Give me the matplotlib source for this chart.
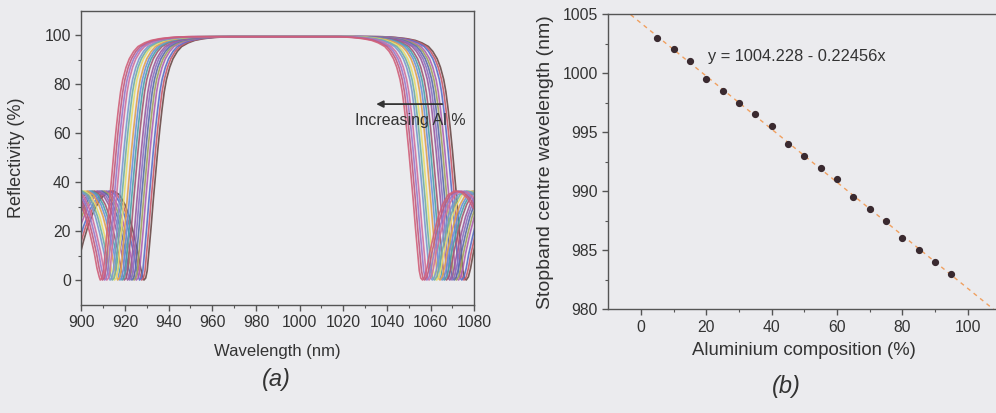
import numpy as np
import matplotlib
matplotlib.use("Agg")
import matplotlib.pyplot as plt

plt.rcParams['font.family'] = ['Liberation Sans', 'DejaVu Sans']

# ---------- dados ----------
# composição de Al (%) e centro do stopband (nm), lidos do painel (b)
al_pct = [5, 10, 15, 20, 25, 30, 35, 40, 45, 50, 55, 60, 65, 70, 75, 80, 85, 90, 95]
centro_nm = [1003.0, 1002.0, 1001.0, 999.5, 998.5, 997.5, 996.5, 995.5, 994.0, 993.0,
             992.0, 991.0, 989.5, 988.5, 987.5, 986.0, 985.0, 984.0, 983.0]

# reta de ajuste
fit_a = 1004.228
fit_b = -0.22456

# perfil de refletividade de um espelho, relativo ao centro do stopband (nm, %)
perfil_rel = [-112, -110, -108, -106, -104, -102, -100, -97, -94, -91, -88, -85.5,
              -83, -81, -79, -77, -75.8, -74.8, -74.3, -73.5, -72.8,
              -72, -71, -70, -69, -68, -67, -66, -65, -64, -62.5, -61, -59, -57,
              -54, -51, -47, -42, -35, 0,
              35, 41, 46, 50, 53, 56, 58, 60, 61.5, 63, 64, 65, 66, 67, 68, 69,
              70, 71, 71.8, 72.5, 73.3,
              74.3, 75.3, 76.5, 78.5, 80.5, 82.5, 85, 88, 91, 94, 97, 100, 102,
              104, 106, 108, 110, 112]
perfil_R = [6, 2, 0.3, 3, 9, 16, 22, 29, 33.5, 36, 36.5, 35,
            31, 26, 19, 11, 5, 1.5, 0.2, 1, 4,
            12, 22, 33, 43, 53, 62, 70, 77, 82, 87, 90.5, 93.5, 95.5,
            97, 98, 98.7, 99.2, 99.5, 99.5,
            99.5, 99.2, 98.7, 98, 97, 95.5, 93.5, 90.5, 87, 82, 77, 70, 62, 53, 43, 33,
            22, 12, 4, 1, 0.2,
            1.5, 5, 11, 19, 26, 31, 35, 36.5, 36, 33.5, 29, 22, 16,
            9, 3, 0.3, 2, 6]

cores = ['#6a4a48', '#c85a6a', '#5a6ec8', '#b060b0', '#a0a060', '#5a6aa8', '#8a70c0',
         '#9a5aa0', '#a05a70', '#4aa0a8', '#6a90d8', '#e0a050', '#e6dc6a', '#70b0a0',
         '#7a98d0', '#d070a0', '#9a78c8', '#c05a80', '#d0607a']

fundo = '#ebebee'
cor_eixo = '#555555'
cor_texto = '#333333'

fig = plt.figure(figsize=(9.96, 4.13), dpi=100, facecolor=fundo)

# ---------- painel (a) ----------
ax1 = fig.add_axes([0.0816, 0.2615, 0.3946, 0.7119], facecolor=fundo)
rel = np.array(perfil_rel)
for i, c in enumerate(centro_nm):
    ax1.plot(rel + c, perfil_R, color=cores[i % len(cores)], lw=1.2, alpha=0.9)

ax1.set_xlim(900, 1080)
ax1.set_ylim(-10, 110)
ax1.set_xticks(np.arange(900, 1081, 20))
ax1.set_xticks(np.arange(910, 1080, 20), minor=True)
ax1.set_yticks([0, 20, 40, 60, 80, 100])
ax1.set_yticks([10, 30, 50, 70, 90], minor=True)
ax1.set_xlabel('Wavelength (nm)', fontsize=12, color=cor_texto, labelpad=10)
ax1.set_ylabel('Reflectivity (%)', fontsize=13, color=cor_texto, labelpad=14)

ax1.annotate('', xy=(1033.8, 72), xytext=(1066.6, 72),
             arrowprops=dict(arrowstyle='-|>', color='#333333', lw=1.3, mutation_scale=10))
ax1.text(1050.5, 65.5, 'Increasing Al %', fontsize=11.5, color=cor_texto,
         ha='center', va='center')

# ---------- painel (b) ----------
ax2 = fig.add_axes([0.6108, 0.2511, 0.3936, 0.715], facecolor=fundo)
xs = np.array([-10, 110])
ax2.plot(xs, fit_a + fit_b * xs, ls=(0, (3, 3)), color='#f0a060', lw=1.0, zorder=2)
ax2.plot(al_pct, centro_nm, 'o', color='#3a2a30', ms=4.2, zorder=3)
ax2.text(20.4, 1001.4, 'y = 1004.228 - 0.22456x', fontsize=11.8, color=cor_texto,
         ha='left', va='center')

ax2.set_xlim(-10, 110)
ax2.set_ylim(980, 1005)
ax2.set_xticks([0, 20, 40, 60, 80, 100])
ax2.set_xticks([10, 30, 50, 70, 90], minor=True)
ax2.set_yticks([980, 985, 990, 995, 1000, 1005])
ax2.set_yticks(np.arange(982.5, 1005, 5), minor=True)
ax2.set_xlabel('Aluminium composition (%)', fontsize=13.3, color=cor_texto, labelpad=5)
ax2.set_ylabel('Stopband centre wavelength (nm)', fontsize=14, color=cor_texto, labelpad=6)

for ax in (ax1, ax2):
    for s in ax.spines.values():
        s.set_color(cor_eixo)
        s.set_linewidth(1.0)
    ax.tick_params(which='major', direction='out', length=4, width=1.0,
                   color=cor_eixo, labelcolor=cor_texto, labelsize=11.3)
    ax.tick_params(which='minor', direction='out', length=2, width=0.8, color=cor_eixo)

fig.text(0.2778, 0.08, '(a)', fontsize=17, style='italic', color=cor_texto,
         ha='center', va='center')
fig.text(0.7898, 0.064, '(b)', fontsize=17, style='italic', color=cor_texto,
         ha='center', va='center')

fig.savefig('out.png', dpi=100, facecolor=fundo)
